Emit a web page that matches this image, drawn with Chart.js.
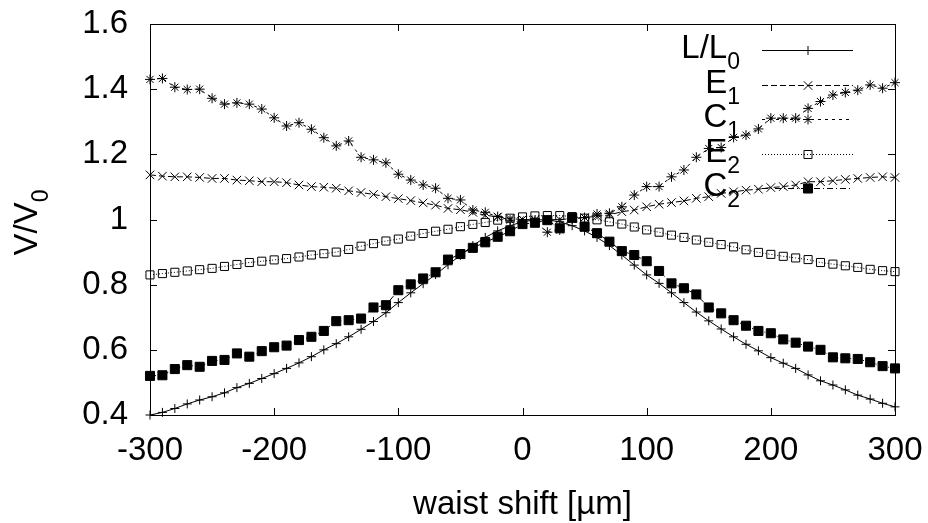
<!DOCTYPE html>
<html>
<head>
<meta charset="utf-8">
<script src="https://cdn.jsdelivr.net/npm/chart.js@4/dist/chart.umd.min.js"></script>
<style>
  html, body { margin: 0; padding: 0; background: #fff; }
  #wrap { width: 928px; height: 523px; }
</style>
</head>
<body>
<div id="wrap"><canvas id="c" width="928" height="523"></canvas></div>
<script>
// ---- data ----
const waistShift = [-300,-290,-280,-270,-260,-250,-240,-230,-220,-210,
  -200,-190,-180,-170,-160,-150,-140,-130,-120,-110,
  -100,-90,-80,-70,-60,-50,-40,-30,-20,-10,
  0,10,20,30,40,50,60,70,80,90,
  100,110,120,130,140,150,160,170,180,190,
  200,210,220,230,240,250,260,270,280,290,
  300];

const seriesL = [0.400,0.408,0.420,0.434,0.446,0.456,0.468,0.484,0.497,0.512,
  0.527,0.543,0.560,0.579,0.600,0.619,0.640,0.663,0.687,0.714,
  0.745,0.775,0.803,0.831,0.861,0.890,0.920,0.945,0.965,0.981,
  0.993,0.999,0.999,0.993,0.981,0.965,0.945,0.920,0.891,0.860,
  0.830,0.804,0.775,0.745,0.716,0.689,0.664,0.640,0.617,0.597,
  0.576,0.559,0.543,0.523,0.505,0.492,0.477,0.461,0.449,0.436,
  0.425];

const seriesE1 = [1.137,1.133,1.131,1.131,1.129,1.126,1.126,1.121,1.119,1.116,
  1.116,1.113,1.106,1.101,1.099,1.096,1.088,1.083,1.077,1.070,
  1.064,1.058,1.051,1.044,1.034,1.030,1.022,1.013,1.008,1.003,
  1.000,0.999,0.999,1.000,1.003,1.006,1.010,1.014,1.024,1.029,
  1.039,1.047,1.052,1.057,1.065,1.070,1.080,1.085,1.090,1.093,
  1.098,1.101,1.106,1.116,1.116,1.119,1.123,1.126,1.129,1.131,
  1.129];

const seriesC1 = [1.430,1.433,1.406,1.399,1.400,1.372,1.354,1.358,1.354,1.339,
  1.312,1.287,1.297,1.277,1.251,1.226,1.241,1.191,1.183,1.174,
  1.139,1.121,1.106,1.096,1.065,1.060,1.029,1.022,1.009,0.998,
  0.988,0.993,0.961,0.968,1.002,1.006,1.017,1.019,1.039,1.075,
  1.101,1.101,1.131,1.152,1.191,1.218,1.221,1.252,1.259,1.278,
  1.311,1.311,1.311,1.341,1.362,1.382,1.390,1.397,1.413,1.403,
  1.420];

const seriesE2 = [0.830,0.834,0.838,0.842,0.846,0.850,0.856,0.862,0.868,0.872,
  0.876,0.880,0.885,0.891,0.895,0.900,0.908,0.918,0.926,0.934,
  0.940,0.949,0.957,0.964,0.970,0.978,0.985,0.991,0.998,1.004,
  1.008,1.011,1.012,1.012,1.009,1.004,0.999,0.993,0.986,0.977,
  0.968,0.961,0.952,0.945,0.937,0.930,0.923,0.916,0.907,0.899,
  0.893,0.887,0.882,0.877,0.868,0.863,0.858,0.853,0.847,0.843,
  0.840];

const seriesC2 = [0.520,0.522,0.541,0.553,0.548,0.566,0.569,0.589,0.579,0.596,
  0.608,0.613,0.630,0.640,0.658,0.688,0.691,0.696,0.730,0.737,
  0.783,0.801,0.819,0.838,0.877,0.894,0.913,0.930,0.947,0.964,
  0.986,0.990,0.998,0.973,1.005,0.978,0.958,0.932,0.903,0.891,
  0.872,0.842,0.804,0.789,0.770,0.730,0.712,0.691,0.674,0.658,
  0.651,0.632,0.622,0.610,0.600,0.577,0.574,0.572,0.562,0.550,
  0.543];

const xTickLabels = ['-300','-200','-100','0','100','200','300'];
const yTickLabels = ['0.4','0.6','0.8','1','1.2','1.4','1.6'];
const legendMain = ['L/L', 'E', 'C', 'E', 'C'];
const legendSub  = ['0', '1', '1', '2', '2'];
const xTitle = 'waist shift [\u00b5m]';
const yTitleMain = 'V/V';
const yTitleSub = '0';

// ---- build chart ----
const FONT = "'Liberation Sans', Arial, Helvetica, sans-serif";
const pts = arr => arr.map((v, i) => ({ x: waistShift[i], y: v }));

const styles = [
  { data: seriesL,  pointStyle: 'cross',    radius: 4.5, dash: [],            fill: 'rgba(0,0,0,0)' },
  { data: seriesE1, pointStyle: 'crossRot', radius: 6,   dash: [6, 3],        fill: 'rgba(0,0,0,0)' },
  { data: seriesC1, pointStyle: 'star',     radius: 5,   dash: [3, 4],        fill: 'rgba(0,0,0,0)' },
  { data: seriesE2, pointStyle: 'rect',     radius: 5.7, dash: [1, 2],        fill: 'rgba(0,0,0,0)' },
  { data: seriesC2, pointStyle: 'rect',     radius: 6.4, dash: [6, 3, 1, 3],  fill: '#000' }
];

const datasets = styles.map((s, i) => ({
  label: legendMain[i] + legendSub[i],
  data: pts(s.data),
  borderColor: '#000',
  borderWidth: 1,
  borderDash: s.dash,
  pointStyle: s.pointStyle,
  pointRadius: s.radius,
  pointHoverRadius: s.radius,
  pointBorderWidth: 1,
  pointBorderColor: '#000',
  pointBackgroundColor: s.fill,
  tension: 0,
  fill: false,
  clip: false,
  order: styles.length - i
}));

const frame = {
  id: 'frame',
  beforeDatasetsDraw(chart) {
    const { ctx, chartArea: a, scales: { x, y } } = chart;
    ctx.save();
    ctx.strokeStyle = '#000';
    ctx.lineWidth = 1;
    ctx.setLineDash([]);
    ctx.strokeRect(a.left + 0.5, a.top + 0.5, a.right - a.left, a.bottom - a.top);
    const T = 7;
    ctx.beginPath();
    x.ticks.forEach(t => {
      const px = Math.round(x.getPixelForValue(t.value)) + 0.5;
      ctx.moveTo(px, a.bottom); ctx.lineTo(px, a.bottom - T);
      ctx.moveTo(px, a.top); ctx.lineTo(px, a.top + T);
    });
    y.ticks.forEach(t => {
      const py = Math.round(y.getPixelForValue(t.value)) + 0.5;
      ctx.moveTo(a.left, py); ctx.lineTo(a.left + T, py);
      ctx.moveTo(a.right, py); ctx.lineTo(a.right - T, py);
    });
    ctx.stroke();
    ctx.restore();
  },
  afterDraw(chart) {
    const { ctx, chartArea: a } = chart;
    ctx.save();
    ctx.fillStyle = '#000';
    ctx.textBaseline = 'alphabetic';
    // x title
    ctx.font = '33px ' + FONT;
    ctx.textAlign = 'center';
    ctx.fillText(xTitle, (a.left + a.right) / 2, 514);
    // y title (rotated, with subscript)
    ctx.textAlign = 'left';
    ctx.font = '33px ' + FONT;
    const wMain = ctx.measureText(yTitleMain).width;
    ctx.font = '23px ' + FONT;
    const wSub = ctx.measureText(yTitleSub).width;
    ctx.translate(37, (a.top + a.bottom) / 2 + 3 + (wMain + wSub) / 2);
    ctx.rotate(-Math.PI / 2);
    ctx.font = '33px ' + FONT;
    ctx.fillText(yTitleMain, 0, 0);
    ctx.font = '23px ' + FONT;
    ctx.fillText(yTitleSub, wMain, 11);
    ctx.restore();

    // legend
    ctx.save();
    const rowY = [50, 84.5, 119, 153.5, 188];
    const textRight = 740, lineL = 762, lineR = 853, markX = 808;
    chart.data.datasets.forEach((ds, i) => {
      const ry = rowY[i];
      ctx.fillStyle = '#000';
      ctx.font = '33px ' + FONT;
      const wm = ctx.measureText(legendMain[i]).width;
      ctx.font = '23px ' + FONT;
      const ws = ctx.measureText(legendSub[i]).width;
      const x0 = textRight - wm - ws;
      ctx.textAlign = 'left';
      ctx.textBaseline = 'alphabetic';
      ctx.font = '33px ' + FONT;
      ctx.fillText(legendMain[i], x0, ry + 8);
      ctx.font = '23px ' + FONT;
      ctx.fillText(legendSub[i], x0 + wm, ry + 19);
      // sample line
      ctx.strokeStyle = '#000';
      ctx.lineWidth = 1;
      ctx.setLineDash(ds.borderDash);
      ctx.beginPath();
      ctx.moveTo(lineL, Math.round(ry) + 0.5);
      ctx.lineTo(lineR, Math.round(ry) + 0.5);
      ctx.stroke();
      ctx.setLineDash([]);
      ctx.fillStyle = ds.pointBackgroundColor;
      Chart.helpers.drawPoint(ctx, {
        pointStyle: ds.pointStyle, radius: ds.pointRadius, rotation: 0, borderWidth: 1
      }, markX, Math.round(ry) + 0.5);
    });
    ctx.restore();
  }
};

new Chart(document.getElementById('c'), {
  type: 'line',
  data: { datasets },
  plugins: [frame],
  options: {
    responsive: false,
    animation: false,
    events: [],
    layout: { padding: { top: 24, right: 33, bottom: 0, left: 0 } },
    plugins: { legend: { display: false }, tooltip: { enabled: false }, title: { display: false } },
    scales: {
      x: {
        type: 'linear',
        min: -300, max: 300,
        grid: { display: false, drawTicks: false },
        border: { display: false },
        ticks: {
          stepSize: 100,
          padding: 16,
          color: '#000',
          maxRotation: 0,
          autoSkip: false,
          font: { family: FONT, size: 33 },
          callback: (v, i) => xTickLabels[i]
        },
        afterFit: s => { s.height = 108; s.paddingLeft = 0; s.paddingRight = 0; }
      },
      y: {
        type: 'linear',
        min: 0.4, max: 1.6,
        grid: { display: false, drawTicks: false },
        border: { display: false },
        ticks: {
          stepSize: 0.2,
          padding: 22,
          color: '#000',
          autoSkip: false,
          font: { family: FONT, size: 33 },
          callback: (v, i) => yTickLabels[i]
        },
        afterFit: s => { s.width = 150; s.paddingTop = 0; s.paddingBottom = 0; }
      }
    }
  }
});
</script>
</body>
</html>
